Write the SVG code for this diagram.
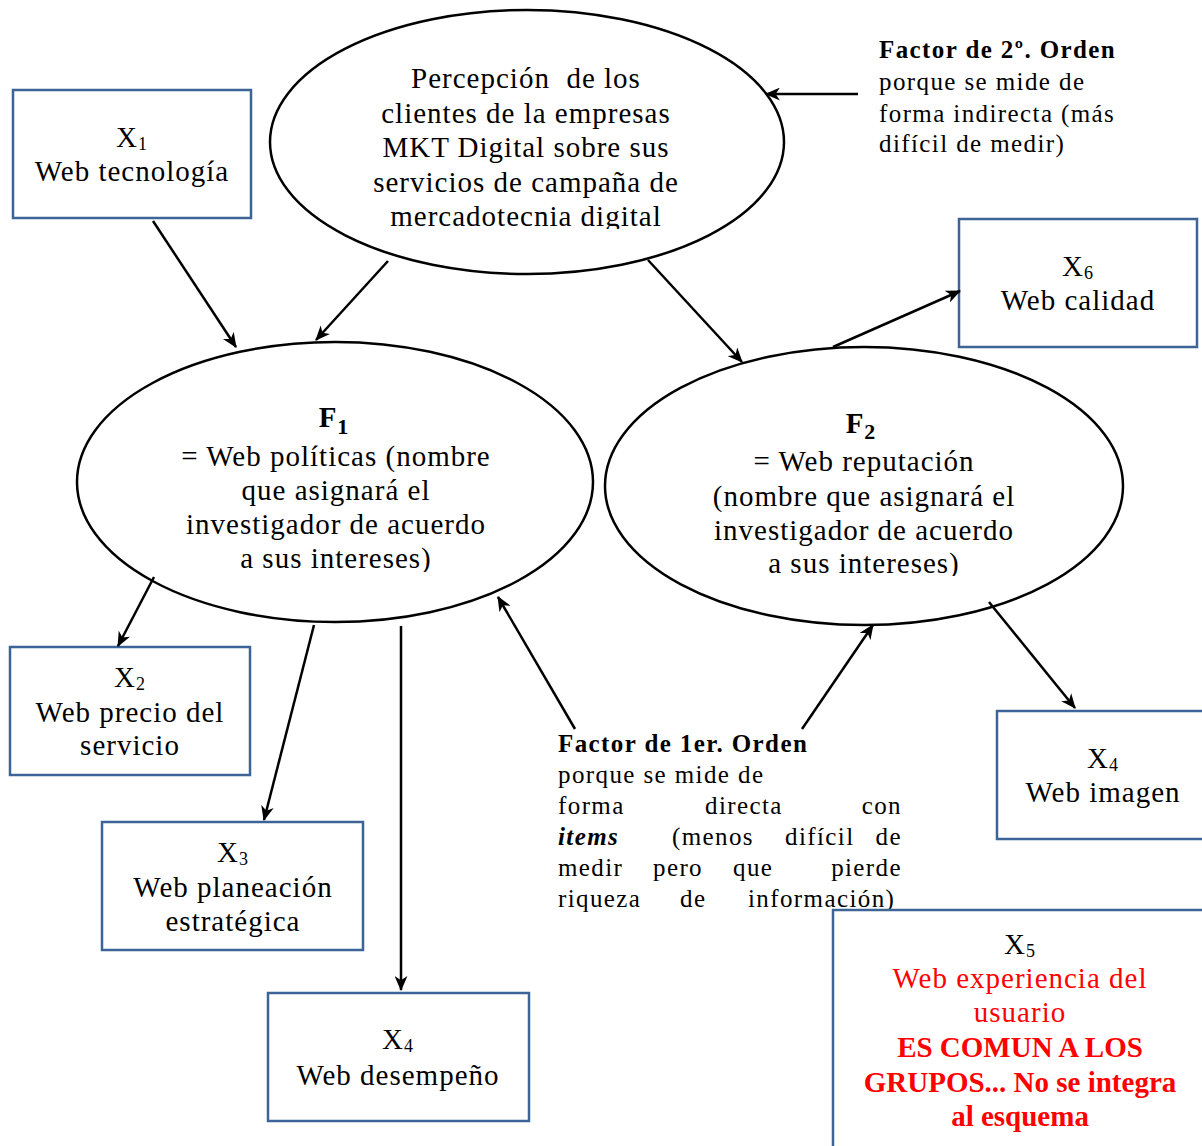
<svg xmlns="http://www.w3.org/2000/svg" width="1202" height="1146" viewBox="0 0 1202 1146">
<style>
.t{font-family:"Liberation Serif","DejaVu Serif",serif;font-size:29px;letter-spacing:1px;fill:#000;text-anchor:middle}
.a{font-family:"Liberation Serif","DejaVu Serif",serif;font-size:25px;letter-spacing:1.4px;fill:#000}
.b{font-weight:bold}
.red{fill:#ff0000}
.rb{font-weight:bold;letter-spacing:0}
.box{fill:#fff;stroke:#3d6497;stroke-width:2.5}
.ell{fill:#fff;stroke:#000;stroke-width:2.5}
.ln{stroke:#000;stroke-width:2.5;fill:none;marker-end:url(#ah)}
</style>
<defs>
<marker id="ah" viewBox="0 0 14 12" refX="13" refY="6" markerWidth="15" markerHeight="13" markerUnits="userSpaceOnUse" orient="auto">
<path d="M0,0 L14,6 L0,12 L4,6 z" fill="#000"/>
</marker>
<clipPath id="cTop"><rect x="0" y="0" width="1202" height="229"/></clipPath>
<clipPath id="cF1"><rect x="0" y="300" width="1202" height="272"/></clipPath>
<clipPath id="cF2"><rect x="0" y="300" width="1202" height="276"/></clipPath>
</defs>
<rect width="1202" height="1146" fill="#fff"/>

<g id="top">
<ellipse class="ell" cx="527" cy="142" rx="257" ry="132"/>
<g clip-path="url(#cTop)">
<text class="t" x="526" y="88" style="white-space:pre">Percepción  de los</text>
<text class="t" x="526" y="123">clientes de la empresas</text>
<text class="t" x="526" y="157">MKT Digital sobre sus</text>
<text class="t" x="526" y="192">servicios de campaña de</text>
<text class="t" x="526" y="226">mercadotecnia digital</text>
</g>
</g>

<g id="note2">
<text class="a b" x="879" y="58">Factor de 2º. Orden</text>
<text class="a" x="879" y="90">porque se mide de</text>
<text class="a" x="879" y="122">forma indirecta (más</text>
<text class="a" x="879" y="152">difícil de medir)</text>
</g>

<g id="x1">
<rect class="box" x="13" y="90" width="238" height="128"/>
<text class="t" x="132" y="147">X<tspan font-size="18" dy="3">1</tspan></text>
<text class="t" x="132" y="181">Web tecnología</text>
</g>

<g id="x6">
<rect class="box" x="959" y="219" width="238" height="128"/>
<text class="t" x="1078" y="276">X<tspan font-size="18" dy="3">6</tspan></text>
<text class="t" x="1078" y="310">Web calidad</text>
</g>

<g id="f1">
<ellipse class="ell" cx="335" cy="482" rx="258" ry="140"/>
<g clip-path="url(#cF1)">
<text class="t b" x="334" y="427" font-size="36">F<tspan font-size="22" dy="7">1</tspan></text>
<text class="t" x="336" y="466">= Web políticas (nombre</text>
<text class="t" x="336" y="500">que asignará el</text>
<text class="t" x="336" y="534">investigador de acuerdo</text>
<text class="t" x="336" y="568">a sus intereses)</text>
</g>
</g>

<g id="f2">
<ellipse class="ell" cx="864" cy="486" rx="259" ry="139"/>
<g clip-path="url(#cF2)">
<text class="t b" x="861" y="433" font-size="36">F<tspan font-size="22" dy="6">2</tspan></text>
<text class="t" x="864" y="471">= Web reputación</text>
<text class="t" x="864" y="506">(nombre que asignará el</text>
<text class="t" x="864" y="540">investigador de acuerdo</text>
<text class="t" x="864" y="573">a sus intereses)</text>
</g>
</g>

<g id="x2">
<rect class="box" x="10" y="647" width="240" height="128"/>
<text class="t" x="130" y="687">X<tspan font-size="18" dy="3">2</tspan></text>
<text class="t" x="130" y="722">Web precio del</text>
<text class="t" x="130" y="755">servicio</text>
</g>

<g id="x3">
<rect class="box" x="102" y="822" width="261" height="128"/>
<text class="t" x="233" y="862">X<tspan font-size="18" dy="3">3</tspan></text>
<text class="t" x="233" y="897">Web planeación</text>
<text class="t" x="233" y="931">estratégica</text>
</g>

<g id="x4a">
<rect class="box" x="268" y="993" width="261" height="128"/>
<text class="t" x="398" y="1049">X<tspan font-size="18" dy="3">4</tspan></text>
<text class="t" x="398" y="1085">Web desempeño</text>
</g>

<g id="x4b">
<rect class="box" x="997" y="711" width="215" height="128"/>
<text class="t" x="1103" y="768">X<tspan font-size="18" dy="3">4</tspan></text>
<text class="t" x="1103" y="802">Web imagen</text>
</g>

<g id="note1">
<text class="a b" x="558" y="752">Factor de 1er. Orden</text>
<text class="a" x="558" y="783">porque se mide de</text>
<text class="a" x="558" y="814">forma</text>
<text class="a" x="705" y="814">directa</text>
<text class="a" x="902" y="814" text-anchor="end">con</text>
<text class="a b" x="558" y="845" font-style="italic">items</text>
<text class="a" x="672" y="845">(menos</text>
<text class="a" x="785" y="845">difícil</text>
<text class="a" x="902" y="845" text-anchor="end">de</text>
<text class="a" x="558" y="876">medir</text>
<text class="a" x="653" y="876">pero</text>
<text class="a" x="733" y="876">que</text>
<text class="a" x="902" y="876" text-anchor="end">pierde</text>
<text class="a" x="558" y="907">riqueza</text>
<text class="a" x="680" y="907">de</text>
<text class="a" x="748" y="907">información)</text>
</g>

<g id="x5">
<rect class="box" x="833" y="910" width="375" height="250"/>
<text class="t" x="1020" y="954">X<tspan font-size="18" dy="3">5</tspan></text>
<text class="t red" x="1020" y="988">Web experiencia del</text>
<text class="t red" x="1020" y="1022">usuario</text>
<text class="t red rb" x="1020" y="1057">ES COMUN A LOS</text>
<text class="t red rb" x="1020" y="1092">GRUPOS... No se integra</text>
<text class="t red rb" x="1020" y="1126">al esquema</text>
</g>

<g id="connectors">
<line class="ln" x1="858" y1="94" x2="766" y2="94"/>
<line class="ln" x1="153" y1="221" x2="236" y2="347"/>
<line class="ln" x1="388" y1="261" x2="316" y2="340"/>
<line class="ln" x1="648" y1="260" x2="742" y2="362"/>
<line class="ln" x1="833" y1="347" x2="960" y2="291"/>
<line class="ln" x1="154" y1="577" x2="118" y2="646"/>
<line class="ln" x1="314" y1="625" x2="264" y2="820"/>
<line class="ln" x1="401" y1="626" x2="401" y2="990"/>
<line class="ln" x1="575" y1="729" x2="498" y2="597"/>
<line class="ln" x1="802" y1="729" x2="873" y2="625"/>
<line class="ln" x1="989" y1="602" x2="1075" y2="708"/>
</g>
</svg>
